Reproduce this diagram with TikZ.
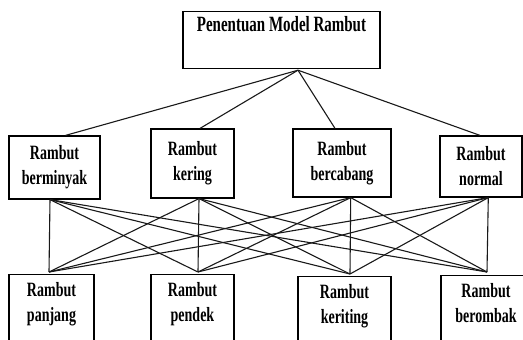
\documentclass[tikz,border=0pt]{standalone}
\usepackage{fontspec}
\setmainfont{Liberation Serif}
\usepackage{graphicx}
\colorlet{bordercolor}{black}
\colorlet{linecolor}{black!90}
\newcommand{\tallword}[1]{\scalebox{1}[1.45]{#1}}
\tikzset{boxbase/.style={draw=bordercolor, line width=1.2pt, shape=rectangle, inner xsep=2pt, align=center, font=\bfseries\fontsize{14}{25}\selectfont},%
    midbox/.style 2 args={boxbase, minimum width=#1, minimum height=#2},%
    lowbox/.style={boxbase, minimum width=#1, anchor=north, inner ysep=8pt, text depth=40pt},%
    topbox/.style 2 args={boxbase, minimum width=#1, anchor=north, inner ysep=3pt, text height=17pt, text depth=#2, font=\bfseries\fontsize{15}{18}\selectfont},%
    conn/.style={-, line width=1.1pt, color=linecolor}%
}

\begin{document}
\begin{tikzpicture}[x=1pt, y=-1pt]
            \useasboundingbox (0,0) rectangle (523,340);
            \begin{scope} %draw boxes
                \node[topbox={197pt}{34pt}] (top) at (281.5, 11) {\tallword{Penentuan Model Rambut}};
                \foreach \nodename/\wdh/\hgt/\xpos/\ypos in {%
                        berminyak/91/63/54.5/167.5,
                        kering/83/69/192.5/163.5,
                        bercabang/98/68/342/163,
                        normal/82/61/481/166.5
                    } \node[midbox={\wdh pt}{\hgt pt}] (\nodename) at (\xpos, \ypos) {\tallword{Rambut}\\\tallword{\nodename}};
                \foreach \nodename/\wdh/\xpos/\ypos in {%
                        panjang/85/51.5/274,
                        pendek/83/192.5/274,
                        keriting/93/344.5/276,
                        berombak/90/486/275
                    } \node[lowbox={\wdh pt}] (\nodename) at (\xpos, \ypos) {\tallword{Rambut}\\\tallword{\nodename}};
            \end{scope}
            \begin{scope} %connection points
                \foreach \nodename/\anchorname/\dx/\dy in {%
                        top/south/16.5/1,
                        berminyak/north/11/0, kering/north/7.5/0, bercabang/north/-7/0, normal/north/-1/0,
                        berminyak/south/-4.5/0, kering/south/6.5/0, bercabang/south/8.7/0, normal/south/7.3/0,
                        panjang/north/-2.5/-2, pendek/north/5.5/-2, keriting/north/5.5/-2, berombak/north/1/-3
                    } \coordinate (\nodename-\anchorname) at ([shift={(\dx,\dy)}]\nodename.\anchorname);
            \end{scope}
            \begin{scope} %draw connections
                \foreach \upper in {berminyak, kering, bercabang, normal}
                    \path (top-south) edge[conn] (\upper-north);
                \foreach \upper in {berminyak, kering, bercabang, normal}
                    \foreach \lower in {panjang, pendek, keriting, berombak}
                        \path (\upper-south) edge[conn] (\lower-north);
            \end{scope}
\end{tikzpicture}
\end{document}
